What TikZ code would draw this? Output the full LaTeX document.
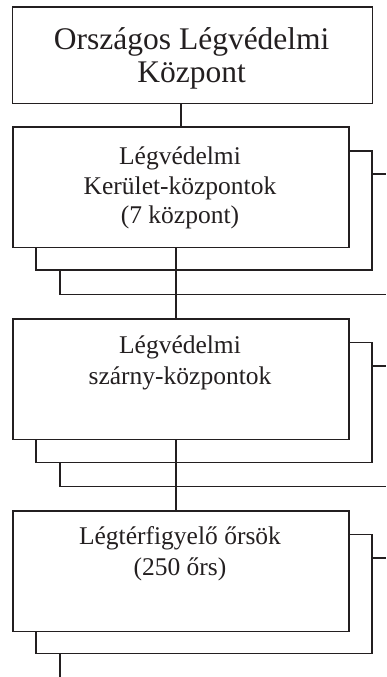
\documentclass[tikz,border=0pt]{standalone}
\usepackage{fontspec}
\setmainfont{Liberation Serif}
\definecolor{ink}{HTML}{231F20}
\begin{document}
\begin{tikzpicture}[x=1pt,y=-1pt,
  line/.style={draw=ink,line width=1.6pt},
  boxs/.style={line,rectangle,inner sep=0pt,anchor=north west,minimum width=336pt,minimum height=120.5pt},
  bigtxt/.style={anchor=base,inner sep=0pt,text=ink,font=\fontsize{31.5}{33}\selectfont},
  txt/.style={anchor=base,inner sep=0pt,text=ink,font=\fontsize{25.5}{30}\selectfont}]
\useasboundingbox (0,0) rectangle (386,677);
% top box
\node[line,rectangle,inner sep=0pt,anchor=north west,minimum width=360pt,minimum height=96.7pt] (b1) at (11.7,6) {};
\node[bigtxt] (t1a) at (191.7,50) {Országos Légvédelmi};
\node[bigtxt] (t1b) at (191.7,82.7) {Központ};
% group boxes
\node[boxs] (b2) at (12,126) {};
\node[boxs] (b3) at (12,318.3) {};
\node[boxs] (b4) at (12,510) {};
% texts
\node[txt] (t2a) at (180,164.3) {Légvédelmi};
\node[txt] (t2b) at (180,194) {Kerület-központok};
\node[txt] (t2c) at (180,223.7) {(7 központ)};
\node[txt] (t3a) at (180,353.3) {Légvédelmi};
\node[txt] (t3b) at (180,384.3) {szárny-központok};
\node[txt] (t4a) at (180,544.3) {Légtérfigyelő őrsök};
\node[txt] (t4b) at (180,575) {(250 őrs)};
% layer coordinates
\coordinate (e) at (386,0);
% group 2 layers
\draw[line] (b2.north east |- 0,150.7) -- (372,150.7) -- (372,270) -- (36,270) -- (36,0 |- b2.south);
\draw[line] (372,174) -- (e |- 0,174);
\draw[line] (60,270) -- (60,294.3) -- (e |- 0,294.3);
% group 3 layers
\draw[line] (b3.north east |- 0,342.3) -- (372,342.3) -- (372,462.3) -- (36,462.3) -- (36,0 |- b3.south);
\draw[line] (372,366) -- (e |- 0,366);
\draw[line] (60,462.3) -- (60,486.3) -- (e |- 0,486.3);
% group 4 layers
\draw[line] (b4.north east |- 0,534.3) -- (372,534.3) -- (372,653.5) -- (36,653.5) -- (36,0 |- b4.south);
\draw[line] (372,557.7) -- (e |- 0,557.7);
\coordinate (bend) at (60,677);
\draw[line] (60,653.5) -- (bend);
% connectors
\draw[line] (b1.south -| b2.north) -- (b2.north);
\coordinate (c2) at (176,0);
\draw[line] (c2 |- b2.south) -- (c2 |- b3.north);
\draw[line] (c2 |- b3.south) -- (c2 |- b4.north);
\end{tikzpicture}
\end{document}
